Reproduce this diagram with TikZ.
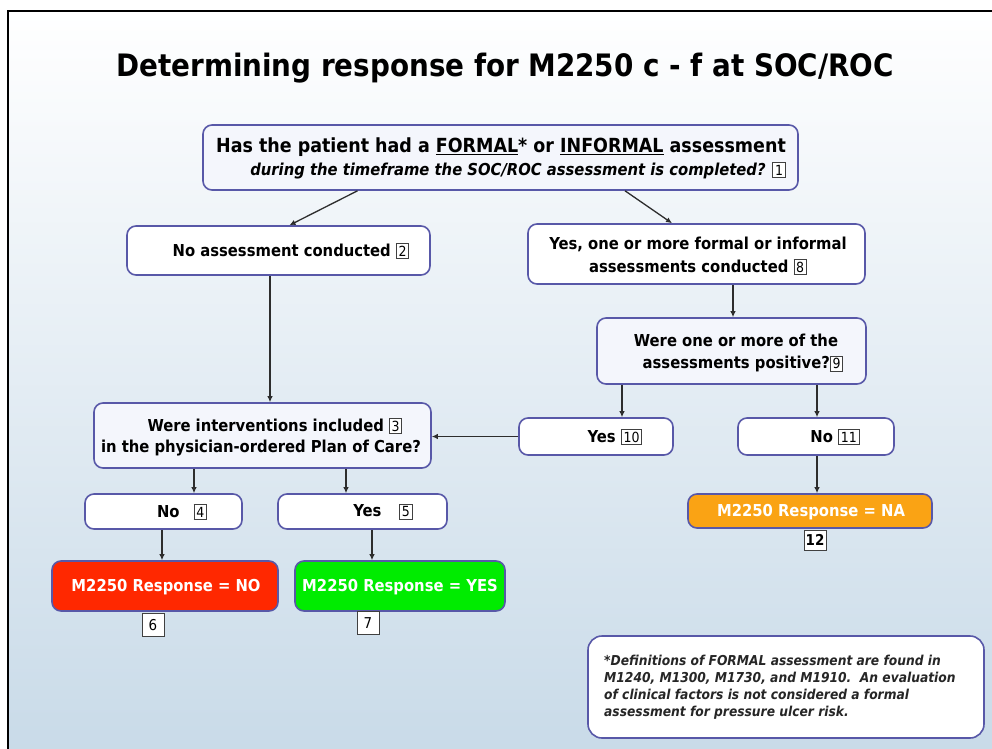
\documentclass[tikz,border=0pt]{standalone}
\usepackage{fontspec}
\setmainfont{DejaVu Sans Condensed}
\usetikzlibrary{arrows.meta,calc}
\definecolor{edge}{RGB}{88,88,168}
\definecolor{bgb}{RGB}{200,218,232}
\definecolor{bgm}{RGB}{232,238,245}
\definecolor{pale}{RGB}{244,246,252}
\definecolor{redf}{RGB}{255,40,0}
\definecolor{greenf}{RGB}{0,236,0}
\definecolor{orangef}{RGB}{250,163,20}
\definecolor{conn}{RGB}{45,45,45}
\newcommand\nbx[1]{{\setlength{\fboxsep}{1.8pt}\setlength{\fboxrule}{0.9pt}\fcolorbox{darkgray}{white}{\mdseries\upshape\fontsize{14}{14}\selectfont #1}}}
\tikzset{
  box/.style={draw=edge, line width=1.6bp, rounded corners=9bp, fill=white, inner sep=0bp},
  palebox/.style={box, fill=pale},
  txt/.style={font=\bfseries\fontsize{16.5}{23}\selectfont, inner sep=0bp, align=center},
  wtxt/.style={font=\bfseries\fontsize{16.5}{20}\selectfont, text=white, inner sep=0bp},
  arr/.style={draw=conn, line width=1.3bp, -{Latex[length=6bp,width=5.5bp]}},
  numb/.style={draw=darkgray, line width=0.9bp, fill=white, minimum width=22bp, minimum height=23bp, inner sep=0bp, font=\fontsize{15}{15}\selectfont}
}
\begin{document}
\begin{tikzpicture}[x=1bp,y=-1bp]
\useasboundingbox (0,0) rectangle (992,749);
\fill[white] (-5,-5) rectangle (1000,760);
\shade[top color=white, middle color=bgm, bottom color=bgb] (8,10) rectangle (1000,760);
\draw[line width=2.2bp] (8,760) -- (8,11) -- (1000,11);

\node[font=\bfseries\fontsize{31}{31}\selectfont, inner sep=0bp] (title) at (505,68) {Determining response for M2250 c - f at SOC/ROC};

% boxes
\node[palebox, minimum width=595bp, minimum height=65bp] (b1) at (500.5,157.5) {};
\node[box, minimum width=303bp, minimum height=49bp] (b2) at (278.5,250.5) {};
\node[box, minimum width=337bp, minimum height=60bp] (b8) at (696.5,254) {};
\node[palebox, minimum width=269bp, minimum height=66bp] (b9) at (731.5,351) {};
\node[palebox, minimum width=337bp, minimum height=65bp] (b3) at (262.5,435.5) {};
\node[box, minimum width=154bp, minimum height=37bp] (y10) at (596,436.5) {};
\node[box, minimum width=156bp, minimum height=37bp] (n11) at (816,436.5) {};
\node[box, minimum width=157bp, minimum height=35bp] (n4) at (163.5,511.5) {};
\node[box, minimum width=169bp, minimum height=35bp] (y5) at (362.5,511.5) {};
\node[box, fill=redf, minimum width=226bp, minimum height=50bp] (rno) at (165,586) {};
\node[box, fill=greenf, minimum width=210bp, minimum height=50bp] (gyes) at (400,586) {};
\node[box, fill=orangef, minimum width=244bp, minimum height=34bp] (ona) at (810,511) {};
\node[box, minimum width=396bp, minimum height=102bp, rounded corners=14bp] (fn) at (786,687) {};

% texts
\node[txt, align=right] (t1) at (501,158) {{\fontsize{19.5}{23}\selectfont Has the patient had a \underline{FORMAL}* or \underline{INFORMAL} assessment}\\
{\itshape\fontsize{16.5}{16}\selectfont during the timeframe the SOC/ROC assessment is completed?} \nbx{1}};
\node[txt] (t2) at (291,251) {No assessment conducted \nbx{2}};
\node[txt] (t8) at (698,256) {Yes, one or more formal or informal\\ assessments conducted \nbx{8}};
\node[txt] (t9) at (736,353) {Were one or more of the\\ \hspace*{14pt}assessments positive?\nbx{9}};
\node[txt, font=\bfseries\fontsize{16.5}{21}\selectfont] (t3) at (261,437) {\hspace*{28pt}Were interventions included \nbx{3}\\ in the physician-ordered Plan of Care?};
\node[txt] (t10) at (615,437) {Yes \nbx{10}};
\node[txt] (t11) at (835,437) {No \nbx{11}};
\node[txt] (t4) at (182,512) {No\hspace{14pt}\nbx{4}};
\node[txt] (t5) at (383,512) {Yes\hspace{18pt}\nbx{5}};
\node[wtxt] (t6) at (166,587) {M2250 Response = NO};
\node[wtxt] (t7) at (400,587) {M2250 Response = YES};
\node[wtxt] (t12) at (811,512) {M2250 Response = NA};
\node[numb] (n6) at (153,625) {6};
\node[numb] (n7) at (368,623) {7};
\node[numb, minimum height=20bp, font=\bfseries\fontsize{15}{15}\selectfont] (n12) at (815,540) {12};
\node[anchor=west, align=left, inner sep=0bp, font=\bfseries\itshape\fontsize{13.7}{17}\selectfont, text=black!85] (tfn) at (604,687)
 {*Definitions of FORMAL assessment are found in\\
 M1240, M1300, M1730, and M1910.\ \ An evaluation\\
 of clinical factors is not considered a formal\\
 assessment for pressure ulcer risk.};

% connectors
\draw[arr] ([xshift=-143bp]b1.south) -- ([xshift=11bp]b2.north);
\draw[arr] ([xshift=124.5bp]b1.south) -- ([xshift=-24.5bp]b8.north);
\coordinate (c2) at ([xshift=-8.5bp]b2.south);
\draw[arr] (c2) -- (c2 |- b3.north);
\coordinate (c8) at ([xshift=36.5bp]b8.south);
\draw[arr] (c8) -- (c8 |- b9.north);
\coordinate (c9a) at ([xshift=-109.5bp]b9.south);
\draw[arr] (c9a) -- (c9a |- y10.north);
\coordinate (c9b) at ([xshift=85.5bp]b9.south);
\draw[arr] (c9b) -- (c9b |- n11.north);
\draw[arr] (y10.west) -- (y10.west -| b3.east);
\coordinate (c3a) at ([xshift=-68.5bp]b3.south);
\draw[arr] (c3a) -- (c3a |- n4.north);
\coordinate (c3b) at ([xshift=83.5bp]b3.south);
\draw[arr] (c3b) -- (c3b |- y5.north);
\coordinate (c4) at ([xshift=-1.5bp]n4.south);
\draw[arr] (c4) -- (c4 |- rno.north);
\coordinate (c5) at ([xshift=9.5bp]y5.south);
\draw[arr] (c5) -- (c5 |- gyes.north);
\coordinate (c11) at ([xshift=1bp]n11.south);
\draw[arr] (c11) -- (c11 |- ona.north);
\end{tikzpicture}
\end{document}
